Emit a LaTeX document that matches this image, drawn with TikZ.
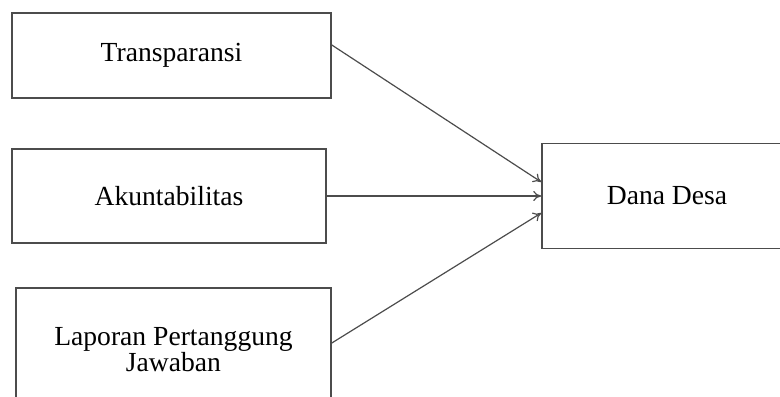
\documentclass[tikz,border=0pt]{standalone}
\usepackage{fontspec}
\setmainfont{Liberation Serif}
\usetikzlibrary{arrows.meta}

\tikzset{
    box/.style={draw=black!70, line width=0.8pt, fill=white, inner sep=0pt,
        align=center, font=\fontsize{13.8}{13}\selectfont},
    link/.style={draw=black!70, line width=0.6pt, -{To[length=4pt,width=5pt]}}
}

\begin{document}
\begin{tikzpicture}[x=0.5pt, y=-0.5pt]
            \useasboundingbox (0,0) rectangle (780,396);
            \clip (0,0) rectangle (780,396);

            % Nodes
            \node[box, minimum width=159.5pt, minimum height=42.5pt] (T) at (171.5, 55.5) {Transparansi};
            \node[box, minimum width=157pt, minimum height=47pt] (A) at (169, 196) {Akuntabilitas};
            \node[box, minimum width=157.5pt, minimum height=62pt] (L) at (173.5, 350) {Laporan Pertanggung\\Jawaban};
            \node[box, minimum width=125pt, minimum height=52.5pt] (D) at (667, 196) {Dana Desa};

            % Edges
            \draw[link] ([yshift=5.25pt]T.east) -- ([yshift=7pt]D.west);
            \draw[link] (A.east) -- (D.west);
            \draw[link] ([yshift=3.5pt]L.east) -- ([yshift=-8.5pt]D.west);
%            \draw[link] (T) -- (A);
        \end{tikzpicture}
\end{document}
